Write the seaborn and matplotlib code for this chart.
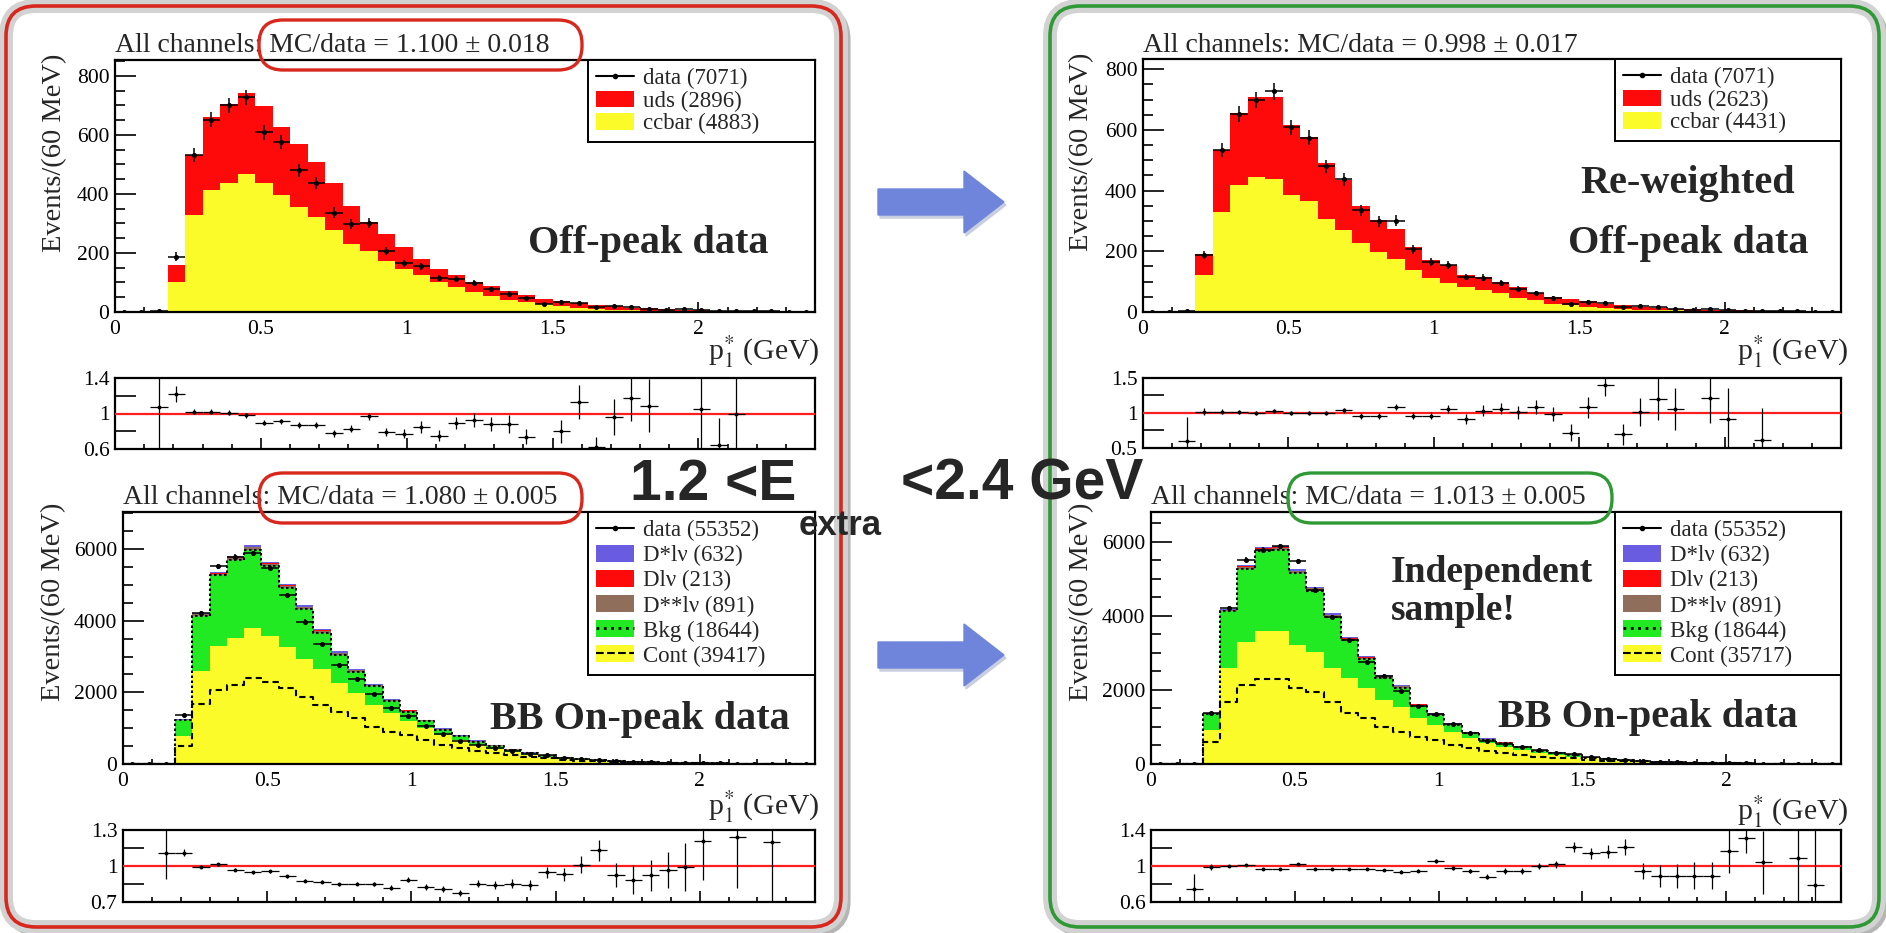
import numpy as np
import pandas as pd
import matplotlib
matplotlib.use("Agg")
import matplotlib.pyplot as plt
import seaborn as sns
from matplotlib.patches import FancyBboxPatch, Patch, FancyArrow
from matplotlib.lines import Line2D
from matplotlib.transforms import IdentityTransform
from matplotlib.ticker import FixedLocator, FixedFormatter, MultipleLocator

nan = np.nan
# ---------------- data (60 MeV bins from 0 to 2.4 GeV) ----------------
edges = np.round(np.arange(0, 2.4001, 0.06), 3)
centers = edges[:-1] + 0.03
xtick_vals = [0, 0.5, 1, 1.5, 2]
xtick_labels = ["0", "0.5", "1", "1.5", "2"]

# Off-peak data (top panels)
data_off = [1, 1, 3, 188, 533, 652, 700, 727, 609, 575, 480, 437, 336, 299, 301, 207, 165, 155, 115, 113,
            97, 77, 62, 47, 28, 34, 30, 18, 20, 17, 10, 8, 9, 7, 4, 3, 3, 2, 1, 1]
ccbar_orig = [0.5, 0.8, 2, 102, 330, 413, 438, 467, 438, 398, 356, 322, 279, 232, 207, 172, 147, 124, 102, 85,
              68, 53, 42, 34, 26, 19, 14, 10, 8, 6, 5, 4, 3, 2, 2, 1, 1, 1, 0.5, 0.5]
uds_orig = [0.5, 0.7, 1, 56, 202, 249, 267, 276, 260, 230, 213, 185, 157, 127, 98, 94, 74, 57, 45, 39,
            34, 34, 29, 23, 19, 18, 16, 14, 11, 9, 7, 6, 5, 4, 3, 3, 2, 1, 1, 0.5]
ccbar_rw = [0.5, 0.8, 2, 121, 330, 418, 446, 440, 387, 365, 308, 270, 226, 198, 176, 140, 112, 96, 83, 74,
            61, 46, 39, 28, 22, 17, 13, 10, 8, 6, 5, 4, 3, 2, 2, 1, 1, 1, 0.5, 0.5]
uds_rw = [0.5, 0.7, 1, 69, 204, 237, 264, 270, 229, 213, 182, 165, 123, 105, 99, 75, 59, 58, 38, 42,
          38, 37, 24, 22, 20, 18, 15, 12, 10, 8, 6, 5, 4, 4, 3, 3, 2, 1, 1, 0.5]

# BB on-peak data (bottom panels)
data_on = [3, 4, 12, 1368, 4204, 5520, 5780, 5880, 5475, 4706, 3974, 3358, 2763, 2374, 1962, 1574, 1346, 1070, 828, 628,
           544, 452, 370, 292, 260, 180, 145, 120, 80, 58, 45, 35, 27, 22, 14, 10, 6, 4, 3, 2]
dstar_lnu = [0, 0, 0, 8, 25, 35, 40, 42, 42, 40, 38, 35, 32, 29, 26, 23, 20, 18, 16, 14,
             12, 11, 10, 9, 8, 7, 6, 6, 5, 5, 4, 4, 3, 3, 3, 2, 2, 2, 2, 1]
d_lnu = [0, 0, 0, 3, 8, 12, 13, 14, 14, 13, 13, 12, 11, 10, 9, 8, 7, 6, 5, 5,
         4, 4, 3, 3, 3, 2, 2, 2, 2, 1, 1, 1, 1, 1, 1, 1, 0, 0, 0, 0]
dss_lnu = [0, 0, 0, 12, 40, 55, 60, 62, 60, 57, 53, 49, 45, 40, 36, 32, 28, 25, 22, 19,
           17, 15, 13, 11, 10, 9, 8, 7, 6, 5, 5, 4, 4, 3, 3, 3, 2, 2, 2, 1]
bkg = [1, 1, 4, 435, 1539, 1971, 2166, 2194, 1942, 1653, 1391, 1026, 782, 600, 513, 338, 265, 182, 140, 100,
       95, 83, 63, 51, 38, 25, 19, 14, 11, 8, 6, 5, 4, 3, 2, 2, 2, 1, 1, 1]
cont_orig = [1, 2, 6, 790, 2600, 3290, 3530, 3790, 3580, 3270, 2930, 2640, 2270, 1970, 1650, 1410, 1200, 1010, 810, 670,
             530, 420, 330, 250, 195, 150, 115, 88, 68, 52, 40, 31, 24, 18, 14, 11, 8, 6, 5, 4]
cont_rw = [1, 2, 5, 918, 2583, 3303, 3591, 3591, 3213, 3033, 2583, 2313, 2043, 1728, 1548, 1233, 1053, 873, 693, 558,
           468, 378, 288, 243, 198, 150, 115, 88, 68, 52, 40, 31, 24, 18, 14, 11, 8, 6, 5, 4]
dashed_orig = [0, 0, 2, 512, 1665, 2065, 2204, 2390, 2297, 2111, 1879, 1646, 1460, 1274, 1042, 902, 809, 670, 530, 456,
               363, 298, 251, 205, 158, 120, 92, 70, 54, 42, 32, 25, 19, 14, 11, 8, 6, 5, 4, 3]
dashed_rw = [0, 0, 2, 585, 1665, 2133, 2295, 2295, 2061, 1953, 1683, 1368, 1233, 1008, 873, 738, 648, 513, 441, 351,
             288, 243, 198, 171, 153, 115, 88, 68, 52, 40, 31, 24, 18, 14, 11, 8, 6, 5, 4, 3]

# data/MC ratios
ratio_off_orig = [nan, nan, 1.075, 1.22, 1.02, 1.02, 1.01, 0.98, 0.895, 0.91, 0.87, 0.87, 0.775, 0.83, 0.97, 0.79, 0.77, 0.85, 0.75, 0.89,
                  0.93, 0.88, 0.88, 0.74, nan, 0.80, 1.13, 0.62, 0.96, 1.17, 1.09, nan, nan, 1.05, 0.65, 1.0, nan, nan, nan, nan]
err_off_orig = [nan, nan, 1.0, 0.09, 0.03, 0.03, 0.03, 0.03, 0.03, 0.03, 0.035, 0.035, 0.035, 0.04, 0.04, 0.045, 0.05, 0.065, 0.06, 0.065,
                0.08, 0.08, 0.1, 0.08, nan, 0.13, 0.19, 0.12, 0.2, 0.25, 0.3, nan, nan, 1.0, 0.3, 1.0, nan, nan, nan, nan]
ratio_on_orig = [nan, nan, 1.11, 1.11, 0.995, 1.015, 0.97, 0.946, 0.955, 0.915, 0.876, 0.868, 0.848, 0.854, 0.848, 0.82, 0.887, 0.825, 0.81, 0.775,
                 0.854, 0.84, 0.854, 0.84, 0.946, 0.93, 1.01, 1.13, 0.924, 0.887, 0.924, 0.966, 0.99, 1.21, nan, 1.24, nan, 1.2, nan, nan]
err_on_orig = [nan, nan, 0.22, 0.03, 0.015, 0.012, 0.012, 0.012, 0.012, 0.012, 0.013, 0.013, 0.014, 0.015, 0.016, 0.018, 0.02, 0.022, 0.025, 0.028,
               0.03, 0.032, 0.035, 0.04, 0.045, 0.055, 0.07, 0.09, 0.1, 0.12, 0.13, 0.15, 0.2, 0.33, nan, 0.42, nan, 1.0, nan, nan]
ratio_off_rw = [nan, nan, 0.60, 1.02, 1.02, 1.01, 1.0, 1.03, 1.0, 1.0, 1.0, 1.04, 0.96, 0.96, 1.09, 0.96, 0.96, 1.06, 0.91, 1.03,
                1.06, 1.01, 1.08, 0.985, 0.72, 1.08, 1.40, 0.695, 1.01, 1.20, 1.05, nan, 1.21, 0.91, nan, 0.62, nan, nan, nan, nan]
err_off_rw = [nan, nan, 0.34, 0.05, 0.03, 0.03, 0.03, 0.03, 0.03, 0.03, 0.035, 0.035, 0.04, 0.04, 0.045, 0.05, 0.05, 0.06, 0.07, 0.08,
              0.08, 0.09, 0.1, 0.1, 0.12, 0.15, 0.16, 0.15, 0.2, 0.3, 0.3, nan, 0.35, 0.45, nan, 0.45, nan, nan, nan, nan]
ratio_on_rw = [nan, nan, 0.74, 0.99, 1.0, 1.015, 0.966, 0.966, 1.02, 0.966, 0.966, 0.966, 0.966, 0.955, 0.936, 0.947, 1.056, 0.974, 0.944, 0.88,
               0.944, 0.944, 1.0, 1.02, 1.21, 1.14, 1.16, 1.21, 0.947, 0.89, 0.89, 0.89, 0.89, 1.17, 1.31, 1.04, nan, 1.086, 0.786, nan]
err_on_rw = [nan, nan, 0.17, 0.03, 0.015, 0.012, 0.012, 0.012, 0.012, 0.012, 0.013, 0.013, 0.014, 0.015, 0.016, 0.018, 0.02, 0.022, 0.025, 0.028,
             0.03, 0.032, 0.035, 0.04, 0.055, 0.065, 0.075, 0.09, 0.09, 0.12, 0.13, 0.15, 0.15, 0.25, 0.17, 0.35, nan, 1.0, 1.0, nan]

legend_off_orig = ["data (7071)", "uds (2896)", "ccbar (4883)"]
legend_off_rw = ["data (7071)", "uds (2623)", "ccbar (4431)"]
legend_on_orig = ["data (55352)", "D*lν (632)", "Dlν (213)", "D**lν (891)", "Bkg (18644)", "Cont (39417)"]
legend_on_rw = ["data (55352)", "D*lν (632)", "Dlν (213)", "D**lν (891)", "Bkg (18644)", "Cont (35717)"]
titles = ["All channels: MC/data = 1.100 ± 0.018", "All channels: MC/data = 1.080 ± 0.005",
          "All channels: MC/data = 0.998 ± 0.017", "All channels: MC/data = 1.013 ± 0.005"]

# ---------------- style ----------------
sns.set_theme(style="ticks")
SERIF = ['Liberation Serif', 'DejaVu Serif']
plt.rcParams['font.family'] = SERIF
plt.rcParams['mathtext.fontset'] = 'stix'

C_RED, C_YEL, C_GRN = '#ff0a0a', '#fbfb2a', '#22ea22'
C_DST, C_DL, C_DSS = '#6a5ce0', '#ff0a0a', '#8f6f5c'

W, H = 1886, 933
fig = plt.figure(figsize=(W / 100, H / 100), dpi=100)
fig.patch.set_facecolor('white')
ID = IdentityTransform()
BIN_LIST = edges.tolist()


def add_ax(x0, y0, x1, y1):
    return fig.add_axes([x0 / W, 1 - y1 / H, (x1 - x0) / W, (y1 - y0) / H])


def txt(x, y, s, **kw):
    kw.setdefault('family', SERIF)
    return fig.text(x, H - y, s, transform=ID, **kw)


def frame(ax):
    for s in ax.spines.values():
        s.set_visible(True)
        s.set_color('black')
        s.set_linewidth(1.6)
    ax.set_facecolor('white')
    ax.grid(False)
    ax.set_xlabel('')
    ax.set_ylabel('')
    ax.set_xlim(0, 2.4)
    ax.xaxis.set_major_locator(FixedLocator(xtick_vals))
    ax.xaxis.set_minor_locator(MultipleLocator(0.1))
    ax.tick_params(axis='both', which='both', direction='in', top=False, right=False,
                   colors='black', labelsize=15.5, width=1.2)
    ax.tick_params(axis='x', which='major', length=7, pad=6)
    ax.tick_params(axis='x', which='minor', length=3.5)
    ax.tick_params(axis='y', which='major', length=15, pad=4)
    ax.tick_params(axis='y', which='minor', length=7.5)


def hist(ax, vals, **kw):
    df = pd.DataFrame({'p': centers, 'w': np.asarray(vals, float)})
    sns.histplot(data=df, x='p', weights='w', bins=BIN_LIST, element='step', ax=ax, **kw)


def main_plot(ax, layers, data, ymax, ymaj, ymin, lines, labels, handles, leg_x, leg_fs, leg_sp):
    cum = np.cumsum([np.asarray(v, float) for v, _ in layers], axis=0)
    for i in range(len(layers) - 1, -1, -1):
        hist(ax, cum[i], fill=True, color=layers[i][1], alpha=1, linewidth=0)
    for level, ls in lines:
        vals = cum[level] if isinstance(level, int) else np.asarray(level, float)
        hist(ax, vals, fill=False, color='black', linestyle=ls, linewidth=1.5)
    d = np.asarray(data, float)
    ax.errorbar(centers, d, xerr=0.03, yerr=np.sqrt(d), fmt='o', ms=2.6, color='black',
                lw=1.1, capsize=0, zorder=6)
    frame(ax)
    ax.set_ylim(0, ymax)
    ax.yaxis.set_major_locator(MultipleLocator(ymaj))
    ax.yaxis.set_minor_locator(MultipleLocator(ymin))
    ax.xaxis.set_major_formatter(FixedFormatter(xtick_labels))
    leg = ax.legend(handles, labels, loc='upper left', bbox_to_anchor=(leg_x, 1.0, 1 - leg_x, 0),
                    mode='expand', borderaxespad=0, frameon=True, fancybox=False,
                    handlelength=1.65, handleheight=0.75, handletextpad=0.4, borderpad=0.35,
                    labelspacing=leg_sp, prop={'family': SERIF, 'size': leg_fs})
    leg.get_frame().set_edgecolor('black')
    leg.get_frame().set_linewidth(1.4)
    leg.get_frame().set_alpha(1)
    leg.set_zorder(10)


def ratio_plot(ax, r, e, lo, hi, ticks, labels):
    r = np.asarray(r, float)
    e = np.asarray(e, float)
    m = ~np.isnan(r)
    ax.axhline(1, color='#ff1e1e', lw=1.6, zorder=3)
    ax.errorbar(centers[m], r[m], xerr=0.03, yerr=e[m], fmt='o', ms=1.8, color='black',
                lw=0.9, capsize=0, zorder=4)
    frame(ax)
    ax.set_ylim(lo, hi)
    ax.yaxis.set_major_locator(FixedLocator(ticks))
    ax.yaxis.set_major_formatter(FixedFormatter(labels))
    ax.yaxis.set_minor_locator(FixedLocator([]))
    ax.tick_params(axis='y', which='major', length=15)
    ax.tick_params(axis='x', labelbottom=False)
    ax.tick_params(axis='x', which='major', length=8)


data_h = Line2D([0], [0], color='black', lw=1.5, marker='o', ms=3)
off_handles = [data_h, Patch(facecolor=C_RED, edgecolor='none'), Patch(facecolor=C_YEL, edgecolor='none')]
on_handles = [data_h, Patch(facecolor=C_DST, edgecolor='none'), Patch(facecolor=C_DL, edgecolor='none'),
              Patch(facecolor=C_DSS, edgecolor='none'),
              (Patch(facecolor=C_GRN, edgecolor='none'), Line2D([0], [0], color='black', ls=':', lw=2)),
              (Patch(facecolor=C_YEL, edgecolor='none'), Line2D([0], [0], color='black', ls='--', lw=1.5))]

# ---------------- panel boxes ----------------
for (x0, y0, x1, y1, col) in [(6, 6, 841, 927, '#d8281e'), (1050, 6, 1879, 927, '#2f9a35')]:
    shadow = FancyBboxPatch((x0 + 4, H - y1 - 4), x1 - x0, y1 - y0, boxstyle='round,pad=0,rounding_size=30',
                            transform=ID, facecolor='none', edgecolor='#b5b5b5', lw=8, zorder=-3)
    inner = FancyBboxPatch((x0, H - y1), x1 - x0, y1 - y0, boxstyle='round,pad=0,rounding_size=30',
                           transform=ID, facecolor='white', edgecolor='#d2d2d2', lw=10, zorder=-2)
    border = FancyBboxPatch((x0, H - y1), x1 - x0, y1 - y0, boxstyle='round,pad=0,rounding_size=30',
                            transform=ID, facecolor='none', edgecolor=col, lw=2.6, zorder=-1)
    for p in (shadow, inner, border):
        fig.add_artist(p)

# ---------------- axes ----------------
A1 = add_ax(115, 60, 815, 312)
main_plot(A1, [(ccbar_orig, C_YEL), (uds_orig, C_RED)], data_off, 854, 200, 50, [],
          legend_off_orig, off_handles, 0.676, 16.5, 0.05)
A1r = add_ax(115, 378, 815, 449)
ratio_plot(A1r, ratio_off_orig, err_off_orig, 0.6, 1.4, [0.6, 0.8, 1.0, 1.2, 1.4], ['0.6', '', '1', '', '1.4'])

A2 = add_ax(123, 512, 815, 764)
main_plot(A2, [(cont_orig, C_YEL), (bkg, C_GRN), (dss_lnu, C_DSS), (d_lnu, C_DL), (dstar_lnu, C_DST)],
          data_on, 7033, 2000, 500, [(1, (0, (1.2, 1.2))), (dashed_orig, (0, (3, 2)))],
          legend_on_orig, on_handles, 0.672, 16.5, 0.16)
A2r = add_ax(123, 830, 815, 902)
ratio_plot(A2r, ratio_on_orig, err_on_orig, 0.7, 1.3, [0.7, 0.85, 1.0, 1.15, 1.3], ['0.7', '', '1', '', '1.3'])

B1 = add_ax(1143, 59, 1841, 312)
main_plot(B1, [(ccbar_rw, C_YEL), (uds_rw, C_RED)], data_off, 834, 200, 50, [],
          legend_off_rw, off_handles, 0.676, 16.5, 0.05)
B1r = add_ax(1143, 378, 1841, 448)
ratio_plot(B1r, ratio_off_rw, err_off_rw, 0.5, 1.5, [0.5, 0.75, 1.0, 1.25, 1.5], ['0.5', '', '1', '', '1.5'])

B2 = add_ax(1151, 512, 1841, 764)
main_plot(B2, [(cont_rw, C_YEL), (bkg, C_GRN), (dss_lnu, C_DSS), (d_lnu, C_DL), (dstar_lnu, C_DST)],
          data_on, 6810, 2000, 500, [(1, (0, (1.2, 1.2))), (dashed_rw, (0, (3, 2)))],
          legend_on_rw, on_handles, 0.672, 16.5, 0.16)
B2r = add_ax(1151, 830, 1841, 902)
ratio_plot(B2r, ratio_on_rw, err_on_rw, 0.6, 1.4, [0.6, 0.8, 1.0, 1.2, 1.4], ['0.6', '', '1', '', '1.4'])

# ---------------- texts ----------------
for (x, y, s) in [(115, 45, titles[0]), (123, 497, titles[1]), (1143, 45, titles[2]), (1151, 497, titles[3])]:
    txt(x, y, s, fontsize=20, va='center', ha='left')

for (x, y) in [(55, 153), (54, 602), (1082, 152), (1082, 602)]:
    txt(x, y, 'Events/(60 MeV)', fontsize=20.5, rotation=90, va='center', ha='center')

for (x, y) in [(820, 352), (820, 807), (1849, 352), (1849, 812)]:
    txt(x, y, r'p$^{*}_{1}$ (GeV)', fontsize=21.5, va='center', ha='right')

bold = dict(fontsize=29, fontweight='bold', va='center', ha='center')
txt(648, 243, 'Off-peak data', **bold)
txt(1688, 183, 'Re-weighted', **bold)
txt(1688, 243, 'Off-peak data', **bold)
txt(640, 720, 'BB On-peak data', **bold)
txt(1648, 718, 'BB On-peak data', **bold)
txt(1391, 573, 'Independent', fontsize=27, fontweight='bold', va='center', ha='left')
txt(1391, 610, 'sample!', fontsize=27, fontweight='bold', va='center', ha='left')

# highlight ovals
for (x0, y0, x1, y1, col) in [(259, 20, 582, 70, '#d8281e'), (259, 473, 582, 523, '#d8281e'),
                              (1288, 473, 1612, 523, '#2f9a35')]:
    fig.add_artist(FancyBboxPatch((x0, H - y1), x1 - x0, y1 - y0, boxstyle='round,pad=0,rounding_size=24',
                                  transform=ID, facecolor='none', edgecolor=col, lw=2.4, zorder=20))

# arrows
for yc in (202, 655):
    fig.add_artist(FancyArrow(880, H - yc - 3, 126, 0, width=26, head_width=62, head_length=40,
                              length_includes_head=True, transform=ID, color='#c8cde0', zorder=19))
    fig.add_artist(FancyArrow(878, H - yc, 126, 0, width=26, head_width=62, head_length=40,
                              length_includes_head=True, transform=ID, color='#6f85dc', zorder=20))

# central label
SANS = ['Liberation Sans', 'DejaVu Sans']
txt(630, 500, '1.2 <E', family=SANS, fontsize=41, fontweight='bold', va='baseline', ha='left', zorder=30)
txt(799, 535, 'extra', family=SANS, fontsize=25, fontweight='bold', va='baseline', ha='left', zorder=30)
txt(1143, 500, '<2.4 GeV', family=SANS, fontsize=41, fontweight='bold', va='baseline', ha='right', zorder=30)

fig.savefig('out.png', dpi=100, facecolor='white')
